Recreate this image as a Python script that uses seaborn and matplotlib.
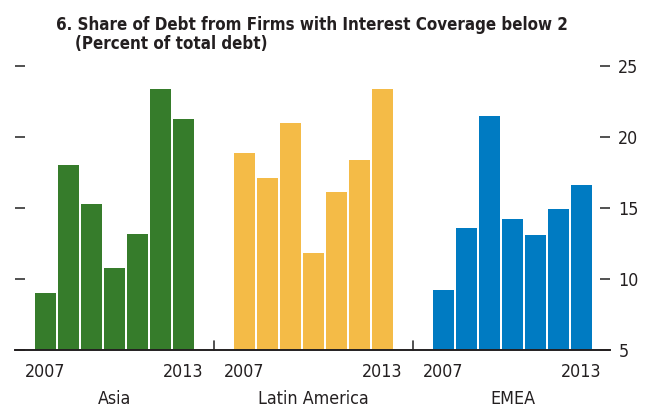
import matplotlib
matplotlib.use('Agg')
import pandas as pd
import seaborn as sns
import matplotlib.pyplot as plt
from matplotlib import font_manager

years = [2007, 2008, 2009, 2010, 2011, 2012, 2013]
regions = ['Asia', 'Latin America', 'EMEA']
asia = [9.0, 18.0, 15.3, 10.8, 13.2, 23.4, 21.3]
latin_america = [18.9, 17.1, 21.0, 11.8, 16.1, 18.4, 23.4]
emea = [9.2, 13.6, 21.5, 14.2, 13.1, 14.9, 16.6]
colors = ['#367c2b', '#f4bb47', '#007bc2']

group_step = 8.65

rows = []
for g, (reg, vals) in enumerate(zip(regions, [asia, latin_america, emea])):
    for i, (yr, v) in enumerate(zip(years, vals)):
        rows.append({'region': reg, 'year': yr, 'value': v,
                     'pos': g * group_step + i})
df = pd.DataFrame(rows)

sns.set_theme(style='white')

# the original uses a condensed grotesque, take a narrow face if there is one
faces = font_manager.fontManager.ttflist
names = {f.name for f in faces}
has_dv_cond = any(f.name == 'DejaVu Sans' and 'Condensed' in f.fname for f in faces)
if 'Liberation Sans Narrow' in names:
    plt.rcParams['font.family'] = ['Liberation Sans Narrow', 'DejaVu Sans']
    fs, fs_title = 14.5, 14
elif has_dv_cond:
    plt.rcParams['font.family'] = ['DejaVu Sans']
    plt.rcParams['font.stretch'] = 'condensed'
    fs, fs_title = 12.8, 12.2
else:
    plt.rcParams['font.family'] = ['Roboto', 'DejaVu Sans']
    fs, fs_title = 13, 12.5

W, H = 652, 407
fig = plt.figure(figsize=(W / 100, H / 100), dpi=100)
ax = fig.add_axes([15 / W, (H - 350) / H, 595 / W, 284 / H])

sns.barplot(data=df, x='pos', y='value', hue='region',
            palette=dict(zip(regions, colors)), native_scale=True,
            dodge=False, width=0.91, saturation=1, errorbar=None,
            legend=False, linewidth=0, ax=ax)

ax.set_xlim(-1.326, 24.54)
ax.set_ylim(5, 25)
ax.set_yticks([5, 10, 15, 20, 25])
ax.set_xticks([])
ax.set_xlabel('')
ax.set_ylabel('')
ax.tick_params(axis='y', left=True, right=True, labelleft=False,
               labelright=True, direction='in', length=7, width=1.2,
               color='#333333', pad=6, labelsize=fs, labelcolor='#231f20')
for s in ['top', 'left', 'right']:
    ax.spines[s].set_visible(False)
ax.spines['bottom'].set_color('#231f20')
ax.spines['bottom'].set_linewidth(1.4)

# group separators on the baseline
for g in range(1, len(regions)):
    xs = (g - 1) * group_step + len(years) - 1 + (group_step - len(years) + 1) / 2
    ax.plot([xs, xs], [5, 5.6], color='#333333', lw=1.2, clip_on=False)

trans = ax.get_xaxis_transform()
for g, reg in enumerate(regions):
    first = g * group_step
    last = g * group_step + len(years) - 1
    ax.text(first, -0.095, str(years[0]), transform=trans, ha='center',
            va='baseline', fontsize=fs, color='#231f20')
    ax.text(last, -0.095, str(years[-1]), transform=trans, ha='center',
            va='baseline', fontsize=fs, color='#231f20')
    ax.text((first + last) / 2, -0.19, reg, transform=trans, ha='center',
            va='baseline', fontsize=fs, color='#231f20')

fig.text(56 / W, 1 - 30 / H,
         '6. Share of Debt from Firms with Interest Coverage below 2',
         fontsize=fs_title, fontweight='bold', color='#231f20', va='baseline')
fig.text(75 / W, 1 - 49 / H, '(Percent of total debt)',
         fontsize=fs_title, fontweight='bold', color='#231f20', va='baseline')

fig.savefig('out.png', dpi=100)
